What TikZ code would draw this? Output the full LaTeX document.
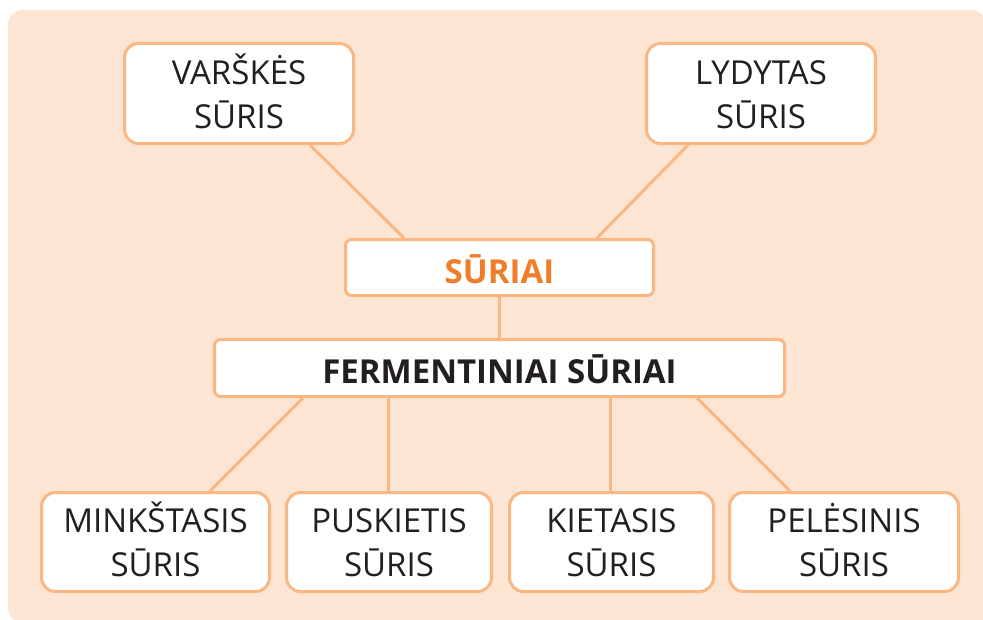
\documentclass[tikz,border=0pt]{standalone}
\usepackage{fontspec}
\setmainfont{Open Sans}
\usetikzlibrary{calc}
\definecolor{bg}{HTML}{FDE5D4}
\definecolor{ln}{HTML}{F9B784}
\definecolor{txt}{HTML}{231F20}
\definecolor{org}{HTML}{F07D2A}
\newcommand\twolines[2]{\rule{0pt}{33pt}#1\\#2\rule[-8pt]{0pt}{8pt}}
\begin{document}
\begin{tikzpicture}[x=1pt,y=-1pt,
  box/.style={draw=ln, line width=3pt, fill=white, rounded corners=14pt, align=center,
    font=\fontsize{33}{44}\selectfont, text=txt, inner sep=0pt},
  flat/.style={draw=ln, line width=3pt, fill=white, rounded corners=6pt, align=center,
    font=\fontsize{33}{44}\selectfont\bfseries, inner sep=0pt, text depth=5pt},
  conn/.style={draw=ln, line width=3pt}]
\useasboundingbox (0,0) rectangle (983,619);
\fill[bg, rounded corners=15pt] (8,10) rectangle (986,623);
\fill[bg] (500,300) rectangle (990,625);
\node[box, minimum width=229, minimum height=100] (v) at (239,93.5) {\twolines{VARŠKĖS}{SŪRIS}};
\node[box, minimum width=229, minimum height=100] (l) at (761,93.5) {\twolines{LYDYTAS}{SŪRIS}};
\node[flat, minimum width=308, minimum height=56, text=org, text height=36pt] (s) at (499.5,267.5) {SŪRIAI};
\node[flat, minimum width=570, minimum height=57, text=txt, text height=35pt] (f) at (499.5,368) {FERMENTINIAI SŪRIAI};
\node[box, minimum width=228, minimum height=99] (m) at (155.5,542) {\twolines{MINKŠTASIS}{SŪRIS}};
\node[box, minimum width=205, minimum height=99] (p) at (389,542) {\twolines{PUSKIETIS}{SŪRIS}};
\node[box, minimum width=204, minimum height=99] (k) at (611.5,542) {\twolines{KIETASIS}{SŪRIS}};
\node[box, minimum width=229, minimum height=99] (pe) at (844,542) {\twolines{PELĖSINIS}{SŪRIS}};
\draw[conn] ($(v.south)+(71,0)$) -- ($(s.north)+(-95.5,0)$);
\draw[conn] ($(l.south)+(-73,0)$) -- ($(s.north)+(97.5,0)$);
\draw[conn] (s.south) -- (f.north);
\draw[conn] ($(f.south)+(-196.5,0)$) -- ($(m.north)+(54.5,0)$);
\draw[conn] ($(f.south)+(-111.5,0)$) -- ($(p.north)+(-1,0)$);
\draw[conn] ($(f.south)+(110.5,0)$) -- ($(k.north)+(-1.5,0)$);
\draw[conn] ($(f.south)+(197.5,0)$) -- ($(pe.north)+(-54,0)$);
\end{tikzpicture}
\end{document}
